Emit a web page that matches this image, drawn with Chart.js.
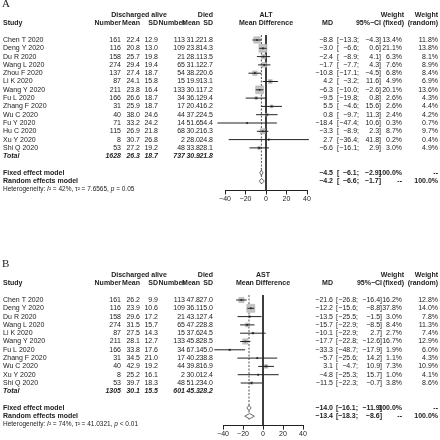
<!DOCTYPE html>
<html>
<head>
<meta charset="utf-8">
<script src="https://cdn.jsdelivr.net/npm/chart.js@4.4.1/dist/chart.umd.min.js"></script>
<style>
  body { margin: 0; background: #fff; }
  .wrap { position: relative; width: 440px; height: 440px; }
  canvas { position: absolute; left: 0; top: 0; }
</style>
</head>
<body>
<div class="wrap">
  <canvas id="panel-a" width="440" height="440"></canvas>
  <canvas id="panel-b" width="440" height="440"></canvas>
</div>
<script>
// ALT data (panel A)
const altStudies = ["Chen T 2020", "Deng Y 2020", "Du R 2020", "Wang L 2020", "Zhou F 2020", "Li K 2020", "Wang Y 2020",
  "Fu L 2020", "Zhang F 2020", "Wu C 2020", "Fu Y 2020", "Hu C 2020", "Xu Y 2020", "Shi Q 2020"];
const altAliveN = [161, 116, 158, 274, 137, 87, 211, 166, 31, 40, 71, 115, 8, 53];
const altAliveMean = [22.4, 20.8, 25.7, 29.4, 27.4, 24.1, 23.8, 26.6, 25.9, 38.0, 33.2, 26.9, 30.7, 27.2];
const altAliveSD = [12.9, 13.0, 19.8, 19.4, 18.7, 15.8, 16.4, 18.7, 18.7, 24.6, 24.2, 21.8, 26.8, 19.2];
const altDiedN = [113, 109, 21, 65, 54, 15, 133, 34, 17, 44, 14, 68, 2, 48];
const altDiedMean = [31.2, 23.8, 28.1, 31.1, 38.2, 19.9, 30.1, 36.1, 20.4, 37.2, 51.6, 30.2, 28.0, 33.8];
const altDiedSD = [21.8, 14.3, 13.5, 22.7, 20.6, 13.1, 17.2, 29.4, 16.2, 24.5, 54.4, 16.3, 24.8, 28.1];
const altMD = [-8.8, -3.0, -2.4, -1.7, -10.8, 4.2, -6.3, -9.5, 5.5, 0.8, -18.4, -3.3, 2.7, -6.6];
const altLower = [-13.3, -6.6, -8.9, -7.7, -17.1, -3.2, -10.0, -19.8, -4.6, -9.7, -47.4, -8.9, -36.4, -16.1];
const altUpper = [-4.3, 0.6, 4.1, 4.3, -4.5, 11.6, -2.6, 0.8, 15.6, 11.3, 10.6, 2.3, 41.8, 2.9];
const altWeightFixed = [13.4, 21.1, 6.3, 7.6, 6.8, 4.9, 20.1, 2.6, 2.6, 2.4, 0.3, 8.7, 0.2, 3.0];
const altWeightRandom = [11.8, 13.8, 8.1, 8.9, 8.4, 6.9, 13.6, 4.3, 4.4, 4.2, 0.7, 9.7, 0.4, 4.9];
const altTotal = [1628, 26.3, 18.7, 737, 30.9, 21.8];
const altFixed = [-4.5, -6.1, -2.9];
const altRandom = [-4.2, -6.6, -1.7];
const altHet = ["42%", "7.6565", "= 0.05"];

// AST data (panel B)
const astStudies = ["Chen T 2020", "Deng Y 2020", "Du R 2020", "Wang L 2020", "Li K 2020", "Wang Y 2020", "Fu L 2020",
  "Zhang F 2020", "Wu C 2020", "Xu Y 2020", "Shi Q 2020"];
const astAliveN = [161, 116, 158, 274, 87, 211, 166, 31, 40, 8, 53];
const astAliveMean = [26.2, 23.9, 29.6, 31.5, 27.5, 28.1, 33.8, 34.5, 42.9, 25.2, 39.7];
const astAliveSD = [9.9, 10.6, 17.2, 15.7, 14.3, 12.7, 17.6, 21.0, 19.2, 16.1, 18.3];
const astDiedN = [113, 109, 21, 65, 15, 133, 34, 17, 44, 2, 48];
const astDiedMean = [47.8, 36.1, 43.1, 47.2, 37.6, 45.8, 67.1, 40.2, 39.8, 30.0, 51.2];
const astDiedSD = [27.0, 15.0, 27.4, 28.8, 24.5, 28.5, 45.0, 38.8, 16.9, 12.4, 34.0];
const astMD = [-21.6, -12.2, -13.5, -15.7, -10.1, -17.7, -33.3, -5.7, 3.1, -4.8, -11.5];
const astLower = [-26.8, -15.6, -25.5, -22.9, -22.9, -22.8, -48.7, -25.6, -4.7, -25.3, -22.3];
const astUpper = [-16.4, -8.8, -1.5, -8.5, 2.7, -12.6, -17.9, 14.2, 10.9, 15.7, -0.7];
const astWeightFixed = [16.2, 37.8, 3.0, 8.4, 2.7, 16.7, 1.9, 1.1, 7.3, 1.0, 3.8];
const astWeightRandom = [12.8, 14.0, 7.8, 11.3, 7.4, 12.9, 6.0, 4.3, 10.9, 4.1, 8.6];
const astTotal = [1305, 30.1, 15.5, 601, 45.3, 28.2];
const astFixed = [-14.0, -16.1, -11.9];
const astRandom = [-13.4, -18.3, -8.6];
const astHet = ["74%", "41.0321", "< 0.01"];

const xTicks = [-40, -20, 0, 20, 40];

const FONT = "'Liberation Sans', Arial, sans-serif";
const INK = "#222";
const ROW_H = 8.3;
const FS = 7;

const num = (v) => v.toFixed(1).replace("-", "\u2212");
const pct = (v) => v.toFixed(1) + "%";

function txt(ctx, s, x, y, align, style, size, family) {
  ctx.font = (style || "") + " " + size + "px " + (family || FONT);
  ctx.textAlign = align || "right";
  ctx.textBaseline = "middle";
  ctx.fillText(s, x, y);
  return ctx.measureText(s).width;
}

function buildPanel(canvasId, p) {
  const n = p.studies.length;
  const totalRow = n, fixedRow = n + 2, randomRow = n + 3, hetRow = n + 4;
  const yMax = randomRow + 1.13;
  const areaTop = p.row0 - ROW_H;
  const areaBottom = p.row0 + yMax * ROW_H;
  const maxW = Math.max(...p.wFixed);

  const boxes = p.md.map((m, i) => ({ x: m, y: i }));
  const boxRadius = p.wFixed.map(w => Math.max(1.5, 8 * Math.sqrt(w / maxW)) / Math.SQRT2);

  const datasets = [];
  // reference line at 0 and dashed line at the fixed estimate
  datasets.push({ data: [{ x: 0, y: -0.6 }, { x: 0, y: yMax }], showLine: true, borderColor: INK, borderWidth: 1, pointRadius: 0, order: 9 });
  datasets.push({ data: [{ x: p.fixed[0], y: -0.6 }, { x: p.fixed[0], y: randomRow + 0.4 }], showLine: true,
    borderColor: INK, borderWidth: 0.8, borderDash: [2, 1.5], pointRadius: 0, order: 8 });
  // study boxes
  datasets.push({ data: boxes, pointStyle: "rect", pointRadius: boxRadius, backgroundColor: "#c4c4c4",
    borderColor: "#a8a8a8", borderWidth: 0.5, order: 6 });
  // confidence intervals
  p.md.forEach((m, i) => {
    datasets.push({ data: [{ x: p.lower[i], y: i }, { x: p.upper[i], y: i }], showLine: true,
      borderColor: INK, borderWidth: 1, pointRadius: 0, order: 5 });
  });
  // centre points
  datasets.push({ data: boxes, pointStyle: "rect", pointRadius: 1.2, backgroundColor: INK, borderWidth: 0, order: 4 });
  // summary diamonds
  [[p.fixed, fixedRow], [p.random, randomRow]].forEach(([s, r]) => {
    datasets.push({
      data: [{ x: s[1], y: r }, { x: s[0], y: r - 0.32 }, { x: s[2], y: r }, { x: s[0], y: r + 0.32 }, { x: s[1], y: r }],
      showLine: true, fill: "shape", backgroundColor: "#fff", borderColor: "#444", borderWidth: 0.8,
      pointRadius: 0, tension: 0, order: 2
    });
  });
  datasets.forEach(d => { d.clip = false; });

  const c = p.cols;
  const tablePlugin = {
    id: "table",
    afterDraw(chart) {
      const ctx = chart.ctx;
      const xs = chart.scales.x;
      const y = (r) => chart.scales.y.getPixelForValue(r);
      const put = (s, x, yy, align, style, size) => txt(ctx, s, x, yy, align, style, size || FS);
      ctx.save();
      ctx.fillStyle = INK;

      txt(ctx, p.letter, 2, y(-4.3), "left", "", 11, "'Liberation Serif', 'Times New Roman', serif");

      // tick labels of the x axis
      const axisY = xs.top + 8.5;
      xTicks.forEach(v => put(String(v).replace("-", "\u2212"), xs.getPixelForValue(v), axisY, "center"));

      const h1 = y(-3), h2 = y(-2);
      put("Discharged alive", c.alive, h1, "center", "bold");
      put("Died", c.dSD, h1, "right", "bold");
      put(p.label, xs.getPixelForValue(0), h1, "center", "bold");
      put("Weight", c.wF + 2, h1, "right", "bold");
      put("Weight", c.wR, h1, "right", "bold");
      put("Study", c.study, h2, "left", "bold");
      put("Number", c.aN, h2, "right", "bold");
      put("Mean", c.aM, h2, "right", "bold");
      put("SD", c.aSD, h2, "right", "bold");
      put("Number", c.dN, h2, "right", "bold");
      put("Mean", c.dM, h2, "right", "bold");
      put("SD", c.dSD, h2, "right", "bold");
      put("Mean Difference", xs.getPixelForValue(0), h2, "center", "bold");
      put("MD", c.md, h2, "right", "bold");
      put("95%\u2212CI", c.ciR, h2, "right", "bold");
      put("(fixed)", c.wF + 2, h2, "right", "bold");
      put("(random)", c.wR, h2, "right", "bold");

      const ci = (s, lo, hi, yy, w) => {
        put("[", c.ciL, yy, "left", w);
        put(num(lo) + ";", c.ciSemi, yy, "right", w);
        put(num(hi) + "]", c.ciR, yy, "right", w);
        put(num(s), c.md, yy, "right", w);
      };

      p.studies.forEach((s, i) => {
        const yy = y(i);
        put(s, c.study, yy, "left");
        put(String(p.aN[i]), c.aN, yy);
        put(num(p.aM[i]), c.aM, yy);
        put(num(p.aSD[i]), c.aSD, yy);
        put(String(p.dN[i]), c.dN, yy);
        put(num(p.dM[i]), c.dM, yy);
        put(num(p.dSD[i]), c.dSD, yy);
        ci(p.md[i], p.lower[i], p.upper[i], yy, "");
        put(pct(p.wFixed[i]), c.wF, yy);
        put(pct(p.wRandom[i]), c.wR, yy);
      });

      const ty = y(totalRow), t = p.total;
      put("Total", c.study, ty, "left", "italic bold");
      put(String(t[0]), c.aN, ty, "right", "italic bold");
      put(num(t[1]), c.aM, ty, "right", "italic bold");
      put(num(t[2]), c.aSD, ty, "right", "italic bold");
      put(String(t[3]), c.dN, ty, "right", "italic bold");
      put(num(t[4]), c.dM, ty, "right", "italic bold");
      put(num(t[5]), c.dSD, ty, "right", "italic bold");

      const fy = y(fixedRow), ry = y(randomRow);
      put("Fixed effect model", c.study, fy, "left", "bold");
      ci(p.fixed[0], p.fixed[1], p.fixed[2], fy, "bold");
      put("100.0%", c.wF, fy, "right", "bold");
      put("--", c.wR, fy, "right", "bold");
      put("Random effects model", c.study, ry, "left", "bold");
      ci(p.random[0], p.random[1], p.random[2], ry, "bold");
      put("--", c.wF, ry, "right", "bold");
      put("100.0%", c.wR, ry, "right", "bold");

      // heterogeneity line
      const hy = y(hetRow);
      let hx = c.study;
      const parts = [["Heterogeneity: ", ""], ["I", "italic"], ["\u00b2 = " + p.het[0] + ", \u03c4\u00b2 = " + p.het[1] + ", ", ""],
        ["p", "italic"], [" " + p.het[2], ""]];
      parts.forEach(([s, st]) => { hx += put(s, hx, hy, "left", st, 6.5); });
      ctx.restore();
    }
  };

  return new Chart(document.getElementById(canvasId), {
    type: "scatter",
    data: { datasets },
    options: {
      responsive: false,
      animation: false,
      events: [],
      devicePixelRatio: 1,
      layout: { padding: { left: p.x0, right: 440 - p.x1, top: areaTop, bottom: 440 - areaBottom - 14 } },
      plugins: { legend: { display: false }, tooltip: { enabled: false } },
      scales: {
        x: {
          type: "linear", min: -40, max: 40,
          afterBuildTicks: (s) => { s.ticks = xTicks.map(v => ({ value: v })); },
          afterFit: (s) => { s.height = 14; },
          grid: { display: true, drawOnChartArea: false, drawTicks: true, tickLength: 4, color: INK, lineWidth: 1 },
          border: { display: true, color: INK, width: 1 },
          ticks: { display: false }
        },
        y: { type: "linear", reverse: true, min: -1, max: yMax, display: false }
      }
    },
    plugins: [tablePlugin]
  });
}

const cols = { study: 3, alive: 139, aN: 121, aM: 140, aSD: 158, dN: 185, dM: 200, dSD: 213,
  md: 333, ciL: 337, ciSemi: 359, ciR: 381, wF: 402, wR: 438 };

buildPanel("panel-a", {
  letter: "A", label: "ALT", row0: 40, x0: 225, x1: 307, cols,
  studies: altStudies, aN: altAliveN, aM: altAliveMean, aSD: altAliveSD,
  dN: altDiedN, dM: altDiedMean, dSD: altDiedSD, md: altMD, lower: altLower, upper: altUpper,
  wFixed: altWeightFixed, wRandom: altWeightRandom, total: altTotal, fixed: altFixed, random: altRandom, het: altHet
});

buildPanel("panel-b", {
  letter: "B", label: "AST", row0: 300, x0: 223, x1: 303, cols: Object.assign({}, cols, { ciL: 336, ciSemi: 358, ciR: 382 }),
  studies: astStudies, aN: astAliveN, aM: astAliveMean, aSD: astAliveSD,
  dN: astDiedN, dM: astDiedMean, dSD: astDiedSD, md: astMD, lower: astLower, upper: astUpper,
  wFixed: astWeightFixed, wRandom: astWeightRandom, total: astTotal, fixed: astFixed, random: astRandom, het: astHet
});
</script>
</body>
</html>
